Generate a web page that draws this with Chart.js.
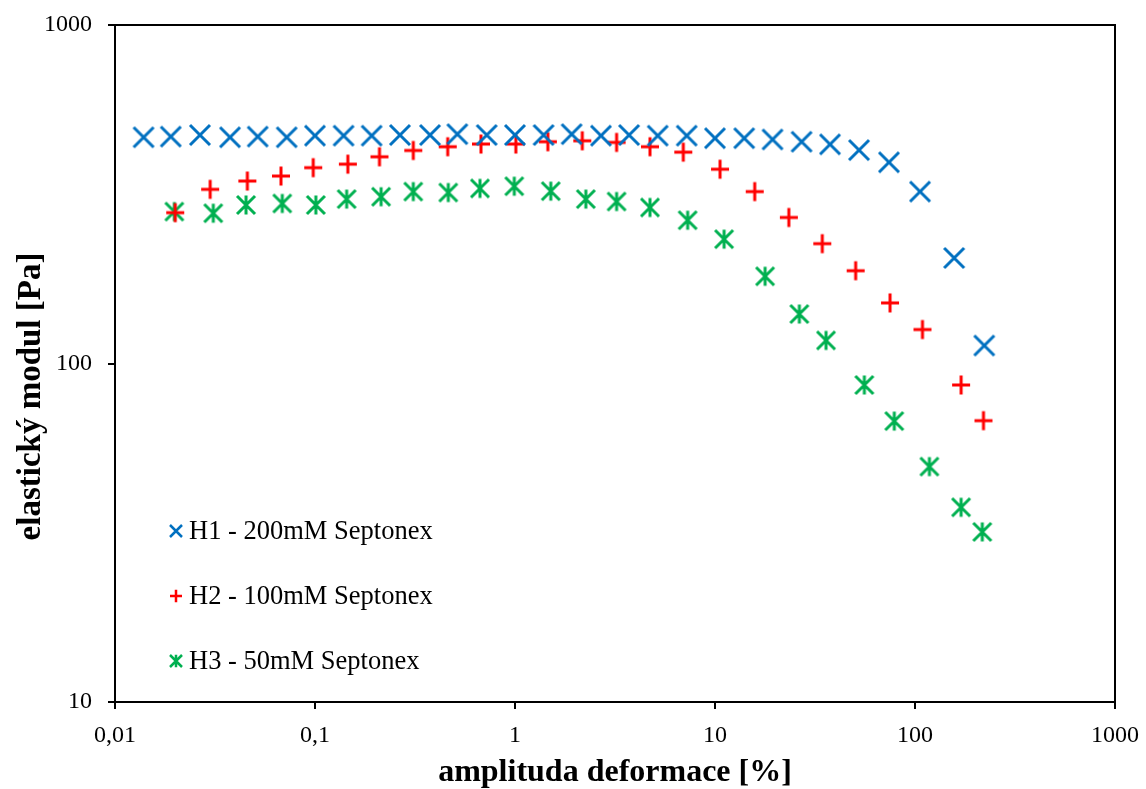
<!DOCTYPE html>
<html>
<head>
<meta charset="utf-8">
<script src="https://cdn.jsdelivr.net/npm/chart.js@4/dist/chart.umd.min.js"></script>
<style>
  html, body { margin: 0; padding: 0; background: #fff; }
  #wrap { width: 1146px; height: 789px; }
</style>
</head>
<body>
<div id="wrap"><canvas id="myChart" width="1146" height="789"></canvas></div>
<script>
'use strict';

// amplitude sweep data
let seriesNames = ['H1 - 200mM Septonex', 'H2 - 100mM Septonex', 'H3 - 50mM Septonex'];

let strainH1 = [0.0139, 0.0190, 0.0266, 0.0376, 0.0517, 0.0722, 0.100, 0.139, 0.192, 0.266,
  0.376, 0.515, 0.722, 1.00, 1.39, 1.92, 2.69, 3.72, 5.17, 7.22,
  10.0, 14.0, 19.4, 27.1, 37.6, 52.5, 74.1, 106, 157, 222];
let modulusH1 = [466, 468, 473, 466, 468, 466, 471, 471, 471, 473,
  473, 476, 473, 473, 473, 476, 471, 473, 471, 471,
  463, 463, 459, 452, 444, 427, 393, 322, 205, 113];

let strainH2 = [0.0200, 0.0299, 0.0459, 0.0676, 0.0980, 0.146, 0.210, 0.310, 0.461, 0.676,
  1.01, 1.46, 2.17, 3.22, 4.73, 6.94, 10.6, 15.8, 23.4, 34.4,
  50.5, 75.0, 109, 170, 220];
let modulusH2 = [279, 327, 346, 358, 379, 388, 408, 426, 437, 445,
  445, 452, 455, 450, 437, 421, 375, 322, 270, 226,
  188, 151, 126, 86.4, 67.8];

let strainH3 = [0.0198, 0.0310, 0.0452, 0.0686, 0.101, 0.144, 0.214, 0.310, 0.464, 0.668,
  0.992, 1.51, 2.26, 3.22, 4.73, 7.30, 11.1, 17.8, 26.4, 35.9,
  55.8, 78.8, 118, 170, 217];
let modulusH3 = [281, 278, 294, 297, 294, 306, 311, 322, 320, 329,
  334, 323, 306, 301, 289, 265, 233, 181, 140, 117,
  86.4, 67.6, 49.6, 37.6, 31.8];

let xTicks = [0.01, 0.1, 1, 10, 100, 1000];
let xTickLabels = ['0,01', '0,1', '1', '10', '100', '1000'];
let yTicks = [10, 100, 1000];
let yTickLabels = ['10', '100', '1000'];

let colors = ['#0070C0', '#FF0000', '#00B050'];
let markerKinds = ['x', 'plus', 'asterisk'];
let serif = '"Liberation Serif", "Times New Roman", serif';

// draws one marker shape at (cx, cy)
function strokeMarker(ctx, kind, cx, cy, half) {
  ctx.beginPath();
  if (kind === 'x' || kind === 'asterisk') {
    ctx.moveTo(cx - half, cy - half); ctx.lineTo(cx + half, cy + half);
    ctx.moveTo(cx + half, cy - half); ctx.lineTo(cx - half, cy + half);
  }
  if (kind === 'plus') {
    ctx.moveTo(cx - half, cy); ctx.lineTo(cx + half, cy);
  }
  if (kind === 'plus' || kind === 'asterisk') {
    ctx.moveTo(cx, cy - half * 1.05); ctx.lineTo(cx, cy + half * 1.05);
  }
  ctx.stroke();
}

function makeMarker(kind, color, half, lw) {
  let c = document.createElement('canvas');
  let size = Math.ceil(half * 2 + lw * 2 + 2);
  c.width = size; c.height = size;
  let ctx = c.getContext('2d');
  ctx.strokeStyle = color;
  ctx.lineWidth = lw;
  ctx.lineCap = 'butt';
  strokeMarker(ctx, kind, size / 2, size / 2, half);
  return c;
}

let markerImages = [
  makeMarker('x', colors[0], 10, 3),
  makeMarker('plus', colors[1], 9, 3),
  makeMarker('asterisk', colors[2], 9, 3)
];

let toPoints = (xs, ys) => xs.map((x, i) => ({ x: x, y: ys[i] }));

// box around the plot area + legend drawn inside it
let framePlugin = {
  id: 'frameAndLegend',
  afterDraw(chart) {
    let ctx = chart.ctx;
    let a = chart.chartArea;
    ctx.save();
    ctx.strokeStyle = '#000';
    ctx.lineWidth = 2;
    ctx.strokeRect(a.left, a.top, a.right - a.left, a.bottom - a.top);

    let rowOffsets = [171, 106, 41];
    ctx.font = '26.5px ' + serif;
    ctx.textBaseline = 'middle';
    ctx.fillStyle = '#000';
    for (let i = 0; i < seriesNames.length; i++) {
      let y = a.bottom - rowOffsets[i];
      let x = a.left + 61;
      ctx.strokeStyle = colors[i];
      ctx.lineWidth = 2.5;
      strokeMarker(ctx, markerKinds[i], x, y, 6);
      ctx.fillText(seriesNames[i], a.left + 74, y + 1);
    }
    ctx.restore();
  }
};

let chartContext = document.getElementById('myChart').getContext('2d');

let makeDataset = (i, xs, ys) => ({
  label: seriesNames[i],
  data: toPoints(xs, ys),
  showLine: false,
  pointStyle: markerImages[i],
  pointRadius: 10,
  pointHoverRadius: 10,
  borderColor: colors[i],
  backgroundColor: colors[i]
});

let myChart = new Chart(chartContext, {
  type: 'scatter',
  data: {
    datasets: [
      makeDataset(0, strainH1, modulusH1),
      makeDataset(1, strainH2, modulusH2),
      makeDataset(2, strainH3, modulusH3)
    ]
  },
  options: {
    responsive: false,
    animation: false,
    layout: { padding: { top: 25, right: 31, left: 0, bottom: 0 } },
    plugins: {
      legend: { display: false },
      tooltip: { enabled: false }
    },
    scales: {
      x: {
        type: 'logarithmic',
        min: 0.01,
        max: 1000,
        afterBuildTicks: scale => { scale.ticks = xTicks.map(v => ({ value: v })); },
        afterFit: scale => {
          scale.height = 87;
          scale.paddingLeft = 0;
          scale.paddingRight = 0;
        },
        ticks: {
          autoSkip: false,
          maxRotation: 0,
          color: '#000',
          padding: 12,
          font: { family: serif, size: 24 },
          callback: (value, index) => xTickLabels[index]
        },
        grid: { drawOnChartArea: false, drawTicks: true, tickLength: 7, color: '#000', lineWidth: 2 },
        border: { display: true, color: '#000', width: 2 },
        title: {
          display: true,
          text: 'amplituda deformace [%]',
          color: '#000',
          padding: { top: 0, bottom: 0 },
          font: { family: serif, size: 32, weight: 'bold', lineHeight: 1 }
        }
      },
      y: {
        type: 'logarithmic',
        min: 10,
        max: 1000,
        afterBuildTicks: scale => { scale.ticks = yTicks.map(v => ({ value: v })); },
        afterFit: scale => {
          scale.width = 115;
          scale.paddingTop = 0;
          scale.paddingBottom = 0;
        },
        ticks: {
          color: '#000',
          padding: 16,
          font: { family: serif, size: 24 },
          callback: (value, index) => yTickLabels[index]
        },
        grid: { drawOnChartArea: false, drawTicks: true, tickLength: 7, color: '#000', lineWidth: 2 },
        border: { display: true, color: '#000', width: 2 },
        title: {
          display: true,
          // trailing spaces push the title a bit below the middle, like in the original
          text: 'elastický modul [Pa]' + '\u00a0'.repeat(8),
          color: '#000',
          padding: { top: 15, bottom: 0 },
          font: { family: serif, size: 33, weight: 'bold', lineHeight: 1 }
        }
      }
    }
  },
  plugins: [framePlugin]
});
</script>
</body>
</html>
